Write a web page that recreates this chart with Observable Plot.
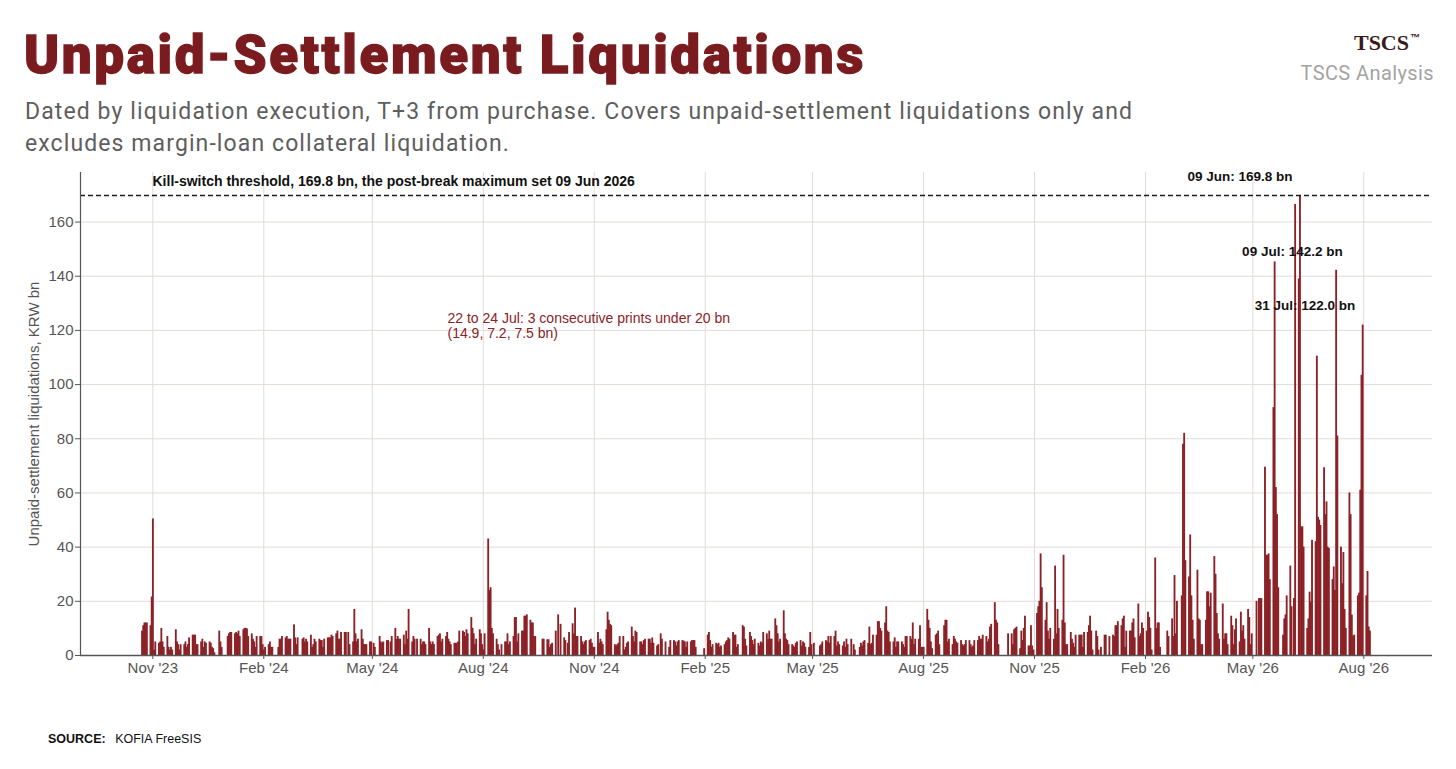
<!DOCTYPE html>
<html>
<head>
<meta charset="utf-8">
<script src="https://cdn.jsdelivr.net/npm/d3@7"></script>
<script src="https://cdn.jsdelivr.net/npm/@observablehq/plot@0.6"></script>
<style>
  html, body { margin: 0; padding: 0; background: #ffffff; }
  body { width: 1456px; height: 769px; position: relative; overflow: hidden; font-family: Roboto, "Open Sans", sans-serif; }
  #title { position: absolute; left: 24px; top: 20px; font-family: Roboto, sans-serif; font-weight: 900; font-size: 53px; line-height: 70px; color: #7a1c1f; white-space: nowrap; -webkit-text-stroke: 1.3px #7a1c1f; }
  .sub { position: absolute; left: 25px; font-family: Roboto, "Open Sans", sans-serif; font-size: 23px; line-height: 30px; color: #5e5e5e; white-space: nowrap; }
  #sub1 { top: 97px; }
  #sub2 { top: 129px; }
  #brand { position: absolute; right: 36px; top: 30px; font-family: "Liberation Serif", "DejaVu Serif", serif; font-weight: 700; font-size: 22px; color: #3b1a1a; }
  #brand span { font-size: 10px; vertical-align: 9px; font-family: "Liberation Sans", Arial, sans-serif; margin-left: 1px; }
  #analysis { position: absolute; right: 22px; top: 61px; font-family: Roboto, "Open Sans", sans-serif; font-size: 20px; color: #a3a3a3; letter-spacing: 0.4px; }
  #chart { position: absolute; left: 0; top: 150px; }
  #source { position: absolute; left: 48px; top: 732px; font-family: "Liberation Sans", Arial, sans-serif; font-size: 12.5px; color: #111; }
  #source b { margin-right: 6px; }
</style>
</head>
<body>
<div id="title">Unpaid-Settlement Liquidations</div>
<div class="sub" id="sub1">Dated by liquidation execution, T+3 from purchase. Covers unpaid-settlement liquidations only and</div>
<div class="sub" id="sub2">excludes margin-loan collateral liquidation.</div>
<div id="brand">TSCS<span>™</span></div>
<div id="analysis">TSCS Analysis</div>
<div id="chart"></div>
<div id="source"><b>SOURCE:</b> KOFIA FreeSIS</div>
<script>
// Daily unpaid-settlement liquidations, KRW bn. Each row = one week (Mon..Fri), null = market closed.
const firstMonday = "2023-10-23";
const weeks2023 = [
  [9, 11, 12, 12, 12],
  [11, 21.6, 50.4, 2, 5],
  [4.5, 5, 10, 5, 3],
  [7, 3, 2, 3, 2],
  [9.5, 5, 4, 2, 4],
  [4, 5, 3, 4, 6.5],
  [7.5, 7.5, 7.5, 4, 4],
  [5, 6, 3, 5, 4.5],
  [5, 4.5, 3, 2.5, 1],
  [null, 9, 5, 3, null]
];
const weeks2024 = [
  [null, 7, 8, 8.5, 8.5],
  [8, 8.5, 8, 9, 7],
  [9.5, 10, 10, 9.8, 7],
  [8, 6, 5, 3, 7],
  [7, 7, 4, 2, 3],
  [4, 5, 3, 3, null],
  [null, 3, 6, 6, 7],
  [6.5, 7, 6, 6, 6],
  [11.3, 6.5, 4, 6.5, null],
  [6, 6.5, 5, 6, 5],
  [7.5, 3, 4, 6, 5],
  [6, 5.5, 5.5, 3, 6],
  [6.5, 6.5, 6.5, 7.5, 7],
  [8, 9, 6, 6, 8.5],
  [8.5, 8.5, null, 8.5, 4],
  [5, 17, 8, 5, 6],
  [9.5, 6, 4, 4, 4],
  [5, 5, null, 4.5, 3],
  [null, 7, 5, 4.5, 5],
  [5.5, 5.5, null, 5, 7],
  [10, 6, 7, 6, 6],
  [7.5, 4, 9, 6, 17],
  [5, 7, 6, null, 6],
  [6, 4, 5, 5, 4],
  [10, 5, 4, 5, 4],
  [7, 7.5, 8, 5, 6],
  [7, 8.5, 6, 5, 4],
  [4.5, 4.5, 4.5, 5, 9],
  [9, 8.5, 7, 9.5, 8],
  [14, 10, 8, 4, 6],
  [9.5, 8, 4, 2, 8],
  [43, 24, 25, 10, 8],
  [6, 4, 2, null, 4],
  [5, 5, 8, 4, 5],
  [7, 14, 14, 5, 8],
  [9, 9, 14.5, 14.5, 15],
  [13, 12, 12, 7, 7],
  [null, null, null, 6, 6],
  [5.8, 5.8, 3, 4, 4.5],
  [9, null, 15, null, 11.5],
  [6.5, 5.5, null, 4.5, 8.5],
  [11.7, 8, 17.5, 7, 7],
  [7, 5, 4, 5, 5.5],
  [5.5, 6, 4.5, 3, 3],
  [8.5, 4.5, 6, 5, 4],
  [9.5, 16, 13, 11.5, 11],
  [4, 3.5, 4, 4.5, 7],
  [7, 2, 3, 4.5, 5],
  [10.5, 7, 5, 9, 8.5],
  [5, 5, 4, 5.5, 6],
  [6, 6, 4.5, 6.5, 4.5],
  [3.5, 4, null, 8, 6],
  [5, null, null, 3, 5.5]
];
const weeks2025 = [
  [5.5, 5, 3.5, 5, 5.5],
  [5.5, 5.3, 5, 3, 5],
  [5, 5.5, 5.5, 5.5, 3],
  [null, null, null, null, 2.5],
  [7.5, 8.5, 5.5, 3, 4],
  [4.5, 4, 4.5, 3, 3.5],
  [4, 5, 5.5, 6.5, 6],
  [8.5, 7.5, 7.5, 3, 4],
  [null, 11, 10.5, 6, 3.5],
  [8.5, 7, 5.5, 4, 6],
  [4.5, 3.5, 5, 4.5, 8.5],
  [8, 6, 9, 6, 6],
  [13.5, 11, 8, 5, 6],
  [16.5, 8, 6, 5.5, 4],
  [4, 3.5, 3, 4.5, 5],
  [5.5, 3.5, 5, 4.5, 3],
  [3, 8.5, 4, null, 4.5],
  [null, null, 3.5, 4, 5],
  [5.5, 5, 7, 4.5, 7],
  [7, 9, 3.5, 5, 4],
  [3.5, 5, 3, 6, 4],
  [6, null, 4, 2, null],
  [3, 4.5, 3.5, 5, 5.5],
  [4.5, 10.5, 4, 4.5, 7.5],
  [7.5, 12.5, 12.5, 10, 9],
  [12, 18, 9, 8.5, 5],
  [5, 6.5, 3, 5, 5],
  [5, 4, 3, 7, 7],
  [7, 6, 12, 4, 6],
  [6, 11, 3, 3, 3],
  [17, 13, 10, 5, 2.5],
  [7.5, 8, 9, 4, null],
  [11, 13, 13, 5, 6],
  [4, 7, 6, 5, 4.5],
  [5.5, 4, 3.5, 4, 5.5],
  [5.5, 4, 3, 3.5, 5.5],
  [5.5, 7, 6, 6, 7.5],
  [7, 5, 6, 10.5, 11.5],
  [19.5, 13, 12, 4, null],
  [null, null, null, null, 8],
  [8, 4, 9.5, 10, 10.5],
  [2.5, 9, 5.5, 10, 14.5],
  [3.5, 3.5, 11, 3.5, 2],
  [15.5, 18, 20, 37.5, 25],
  [13, 19.5, 9, 6, 10],
  [6, 33, 8, 17, 10],
  [13, 37, 12, 4, 4],
  [8.5, 6, 4.5, 3, 7.5],
  [7.5, 7.5, 7.5, 3, 8.5],
  [8.5, 11, 14.5, 9, 2],
  [9, 7, 2, null, 3],
  [7.5, 7.5, null, null, 7]
];
const weeks2026 = [
  [7.5, 7, 11, 11, 12.5],
  [11, 13.5, 14.5, 3, 9],
  [9, 9, 12, 13.5, 6.5],
  [19, 7, 8, 12, 10],
  [9, 16, 14, 10, 2],
  [36, 10, 12, 12, 3],
  [null, null, null, 9, 7],
  [13.5, 7, 29.5, 8, 20],
  [null, 22, 78, 82, 35],
  [29, 44.5, 22, 13, 6],
  [31.5, 13.5, 13, 4, 4],
  [13, 23.5, 23.5, 18, 23],
  [36.5, 30, 15.5, 8, 6],
  [19, 6, 8, 8, 4],
  [14.5, 11, 4, 9.5, 13.5],
  [5, 16, 9, 11, 6],
  [17, 14, 4, 8, null],
  [20, null, 21, 21, 21],
  [69.5, 37, 37, 37.5, 28],
  [91.5, 145.3, 62, 52, 25],
  [null, 7.5, 13.5, 15, 22],
  [33, 18, null, 21, 166.5],
  [139, 169.8, 47.5, 47.5, 40],
  [10, 13.5, 23.4, 19.7, 42.5],
  [42, 110.5, 51, 50, 48],
  [69.3, 52, 56.7, 40, 39.5],
  [28, 32.7, 24, 142.2, 81],
  [40, 26.5, 38, 17, 10],
  [60, 52, 14.9, 7.2, 7.5],
  [22, 23, 61, 103.4, 122],
  [22, 31, 10.5, 9]
];

const threshold = 169.8;
const thresholdLabel = "Kill-switch threshold, 169.8 bn, the post-break maximum set 09 Jun 2026";
const noteLines = ["22 to 24 Jul: 3 consecutive prints under 20 bn", "(14.9, 7.2, 7.5 bn)"];
const peakDates = ["2026-06-09", "2026-07-09", "2026-07-31"];
const peakValues = [169.8, 142.2, 122.0];
const peakTexts = ["09 Jun: 169.8 bn", "09 Jul: 142.2 bn", "31 Jul: 122.0 bn"];
const xTickDates = ["2023-11-01", "2024-02-01", "2024-05-01", "2024-08-01", "2024-11-01", "2025-02-01", "2025-05-01", "2025-08-01", "2025-11-01", "2026-02-01", "2026-05-01", "2026-08-01"];
const xTickLabels = ["Nov '23", "Feb '24", "May '24", "Aug '24", "Nov '24", "Feb '25", "May '25", "Aug '25", "Nov '25", "Feb '26", "May '26", "Aug '26"];
const yTicks = [0, 20, 40, 60, 80, 100, 120, 140, 160];
const yGrid = [20, 40, 60, 80, 100, 120, 140, 160];

// Build the daily table from the weekly rows
const allWeeks = [...weeks2023, ...weeks2024, ...weeks2025, ...weeks2026];
const start = new Date(firstMonday + "T00:00:00Z");
const rows = [];
allWeeks.forEach((wk, w) => wk.forEach((v, d) => {
  if (v != null) rows.push({date: d3.utcDay.offset(start, w * 7 + d), value: v});
}));
const ticks = xTickDates.map(s => new Date(s + "T00:00:00Z"));
const tickLabel = new Map(ticks.map((t, i) => [+t, xTickLabels[i]]));
const first = rows[0].date, last = d3.utcDay.offset(rows[rows.length - 1].date, 1);
const pad = (last - first) * 0.05;
const xDomain = [new Date(+first - pad), new Date(+last + pad)];
const peaks = peakDates.map((s, i) => ({date: new Date(s + "T12:00:00Z"), value: peakValues[i], text: peakTexts[i]}));

const annFont = "'Liberation Sans', Arial, sans-serif";
const red = "#8b2227";

const chart = Plot.plot({
  width: 1456,
  height: 540,
  marginLeft: 80,
  marginRight: 24,
  marginTop: 22,
  marginBottom: 35,
  style: {fontFamily: "'Liberation Sans', Arial, sans-serif", fontSize: "15px", color: "#555", background: "transparent", overflow: "visible"},
  x: {type: "utc", domain: xDomain},
  y: {domain: [0, threshold * 1.05]},
  marks: [
    Plot.gridX(ticks, {stroke: "#e2dcd8", strokeOpacity: 1, strokeWidth: 1}),
    Plot.gridY(yGrid, {stroke: "#e2dcd8", strokeOpacity: 1, strokeWidth: 1}),
    Plot.rectY(rows, {x1: "date", x2: d => d3.utcDay.offset(d.date, 1), y: "value", fill: red, insetLeft: -0.35, insetRight: -0.3}),
    Plot.ruleY([threshold], {stroke: "#1a1a1a", strokeWidth: 1.4, strokeDasharray: "5,3"}),
    Plot.ruleY([0], {stroke: "#555", strokeWidth: 1.4}),
    Plot.ruleX([xDomain[0]], {stroke: "#555", strokeWidth: 1.2}),
    Plot.axisX({ticks, tickFormat: d => tickLabel.get(+d), tickSize: 4, tickPadding: 3, stroke: "#555", fill: "#555", fontSize: 15, label: null}),
    Plot.axisY({ticks: yTicks, tickSize: 5, tickPadding: 2, stroke: "#555", fill: "#555", fontSize: 15,
      label: "Unpaid-settlement liquidations, KRW bn", labelAnchor: "center", labelOffset: 52, labelArrow: "none"}),
    Plot.text([thresholdLabel], {frameAnchor: "top-left", lineAnchor: "middle", dx: 72, dy: 9, textAnchor: "start", fontFamily: annFont, fontWeight: "bold", fontSize: 14, fill: "#111", ariaLabel: "ann"}),
    Plot.text([noteLines[0]], {frameAnchor: "top-left", lineAnchor: "middle", dx: 367, dy: 146, textAnchor: "start", fontFamily: annFont, fontSize: 14, fill: red, ariaLabel: "ann"}),
    Plot.text([noteLines[1]], {frameAnchor: "top-left", lineAnchor: "middle", dx: 367, dy: 161, textAnchor: "start", fontFamily: annFont, fontSize: 14, fill: red, ariaLabel: "ann"}),
    Plot.text(peaks.filter((d, i) => i !== 1), {x: "date", y: "value", text: "text", textAnchor: "end", dx: -8, dy: -19, fontFamily: annFont, fontWeight: "bold", fontSize: 13.5, fill: "#111", ariaLabel: "ann"}),
    Plot.text(peaks.filter((d, i) => i === 1), {x: "date", y: "value", text: "text", textAnchor: "end", dx: 6, dy: -19, fontFamily: annFont, fontWeight: "bold", fontSize: 13.5, fill: "#111", ariaLabel: "ann"})
  ]
});
document.getElementById("chart").appendChild(chart);

// Emulate the condensed annotation face by compressing the real text horizontally
chart.querySelectorAll('g[aria-label="ann"] text').forEach(t => {
  const len = t.getComputedTextLength();
  t.setAttribute("textLength", (len * 0.84).toFixed(1));
  t.setAttribute("lengthAdjust", "spacingAndGlyphs");
});

// Fit header lines to the reference widths via letter spacing
function fit(id, target) {
  const el = document.getElementById(id);
  const n = el.textContent.length;
  const w = el.getBoundingClientRect().width;
  const ls = (target - w) / n;
  el.style.letterSpacing = ls.toFixed(2) + "px";
  return ls;
}
fit("title", 842);
const subSpacing = fit("sub1", 1108);
document.getElementById("sub2").style.letterSpacing = subSpacing.toFixed(2) + "px";
</script>
</body>
</html>
